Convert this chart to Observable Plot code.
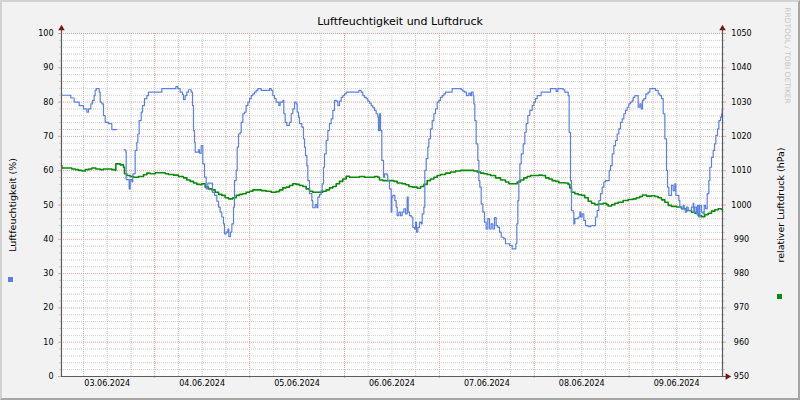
<!DOCTYPE html>
<html>
<head>
<meta charset="utf-8">
<script src="https://cdn.jsdelivr.net/npm/d3@7"></script>
<script src="https://cdn.jsdelivr.net/npm/@observablehq/plot@0.6"></script>
<style>
html, body { margin: 0; padding: 0; background: #f2f2f2; }
#wrap { position: relative; width: 800px; height: 400px; overflow: hidden; font-family: "DejaVu Sans", sans-serif; }
#border { position: absolute; left: 0; top: 0; width: 800px; height: 400px; box-sizing: border-box;
  border-top: 2px solid #d2d2d2; border-left: 2px solid #d2d2d2; border-right: 2px solid #a6a6a6; border-bottom: 2px solid #a6a6a6; pointer-events: none; }
.leg { position: absolute; width: 5px; height: 5px; }
svg { display: block; }
</style>
</head>
<body>
<div id="wrap">
  <div id="chart"></div>
  <div class="leg" style="left:8px;top:277px;background:#5a80e6"></div>
  <div class="leg" style="left:777px;top:294px;background:#0b8a0b"></div>
  <div id="border"></div>
</div>
<script>
// ---- data (hours since 03.06.2024 00:00) ----
const dayLabels = ["03.06.2024","04.06.2024","05.06.2024","06.06.2024","07.06.2024","08.06.2024","09.06.2024"];

const humHours = [0.43,2.79,3.63,4.90,5.99,6.84,7.26,7.85,8.27,8.69,8.94,9.20,9.96,10.21,10.63,11.05,11.47,12.32,13.16,14.42,14.50,
16.28,16.70,16.79,17.54,17.80,18.22,18.47,19.06,19.48,19.74,20.07,20.58,20.92,21.42,22.01,22.43,25.80,29.35,29.85,30.44,31.03,31.28,31.71,32.13,32.55,33.22,33.56,33.81,34.07,34.24,35.08,35.33,35.75,36.17,36.60,37.02,37.44,38.62,39.12,39.71,40.14,40.56,40.98,41.40,41.65,42.08,42.50,42.75,43.17,43.51,43.93,
44.18,44.61,44.86,45.20,45.62,45.87,46.29,46.71,47.13,47.56,47.98,48.40,48.82,49.24,49.66,50.08,50.93,53.04,53.46,53.88,54.30,54.72,55.39,55.73,56.41,56.66,57.00,57.42,58.09,58.52,58.94,59.36,59.78,60.03,60.37,60.62,61.21,61.63,61.89,62.14,62.48,62.73,63.15,63.74,63.99,64.59,65.01,65.26,65.68,66.10,66.36,66.69,66.94,67.37,67.79,68.21,68.63,69.05,69.47,69.90,70.32,70.74,71.16,71.58,72.00,72.43,75.63,76.22,76.64,77.06,77.48,77.90,78.33,78.75,79.17,79.59,80.01,80.43,80.60,80.86,81.11,81.44,81.87,82.12,82.80,82.96,83.38,83.81,83.97,
84.23,84.73,85.07,85.32,85.74,86.17,86.59,87.01,87.43,87.85,88.11,88.44,88.86,89.28,89.71,89.96,90.21,90.55,90.97,91.39,91.65,92.07,92.32,92.66,93.08,93.33,93.75,94.18,94.60,95.02,95.44,95.86,96.28,96.71,97.13,97.55,99.23,101.51,101.93,102.35,102.86,103.45,103.87,104.12,104.54,104.71,104.96,105.30,105.72,105.98,106.23,106.57,106.99,107.41,107.83,108.25,108.68,109.10,109.52,109.94,110.36,110.78,111.20,111.63,112.30,112.72,113.73,114.41,115.33,115.59,115.84,116.09,116.35,116.69,117.19,117.61,117.95,118.37,118.87,119.47,119.89,120.31,120.73,121.74,124.10,125.54,125.96,
127.31,127.73,128.57,128.82,129.16,129.41,129.84,130.00,130.26,131.10,131.52,131.77,132.11,132.53,132.95,133.63,134.30,135.48,135.90,136.33,136.75,137.17,137.59,138.01,138.94,139.28,139.70,140.12,140.54,140.96,141.38,141.81,142.23,142.65,143.07,143.49,143.91,144.34,144.76,145.01,145.43,146.27,146.69,147.03,147.37,147.71,148.21,148.80,149.22,150.66,151.33,151.75,152.18,152.60,153.02,153.44,153.69,154.03,154.70,155.13,155.55,155.80,156.56,156.81,157.23,157.65,157.91,158.16,158.50,158.92,159.76,160.18,160.35,160.60,161.03,161.28,161.62,161.87,162.29,162.71,162.97,163.31,163.73,164.15,164.40,164.82,165.24,165.58,165.92,166.34,166.68,167.10,167.35,167.55,167.60];

const humValues = [82.0,81.2,80.0,79.0,78.0,77.1,78.0,79.5,80.5,81.9,83.4,83.9,82.9,80.0,79.5,76.1,74.1,73.7,72.0,72.0,NaN,
66.1,65.4,57.4,54.7,57.4,56.7,59.1,65.9,68.3,70.7,74.6,77.1,79.0,81.0,81.9,82.9,83.9,84.5,83.9,82.9,82.2,80.7,81.9,82.9,83.6,82.9,79.0,71.7,68.3,65.4,66.1,65.1,67.3,62.0,58.1,54.7,56.4,53.7,52.8,51.1,49.4,47.9,46.5,44.5,41.6,42.1,43.0,40.8,42.1,44.5,49.4,
57.1,60.1,66.9,70.7,71.2,74.1,76.6,77.1,79.0,80.0,81.0,81.9,82.4,82.9,83.4,83.9,83.4,83.9,83.4,81.9,81.0,80.0,79.0,80.0,80.5,76.6,74.1,73.2,74.1,76.6,78.0,80.0,79.5,77.1,75.6,73.7,72.7,69.3,66.9,64.4,61.5,57.1,53.3,51.3,49.2,50.1,49.2,52.3,53.1,54.2,56.2,61.0,64.9,68.8,71.7,73.7,75.1,77.6,80.5,80.3,79.0,80.3,81.4,81.9,82.4,82.9,83.4,82.9,81.9,81.4,81.0,80.3,79.7,79.0,78.4,77.6,76.6,75.6,71.7,76.6,71.7,63.0,58.1,59.1,58.6,57.1,54.7,47.9,52.3,
52.8,51.3,49.4,46.9,47.9,46.9,47.9,48.9,47.4,52.3,47.9,46.9,46.5,43.5,43.0,45.0,42.1,43.5,45.0,44.5,47.4,49.4,60.1,63.5,66.9,69.3,72.2,74.6,76.6,78.0,80.0,80.5,81.4,81.9,82.4,82.9,83.9,83.6,83.2,82.9,81.9,82.6,81.9,82.9,81.9,79.5,74.6,67.8,63.0,57.1,55.2,50.3,47.9,45.0,43.0,46.0,43.0,44.5,43.0,46.3,44.0,43.5,42.1,40.6,40.1,38.7,38.2,37.2,38.7,44.5,51.3,57.1,62.0,64.9,67.8,71.2,73.7,76.1,77.6,79.0,80.0,81.0,81.9,82.9,83.9,83.1,83.9,
83.6,82.9,81.9,71.2,57.1,48.4,47.9,44.5,46.0,46.5,47.9,46.5,47.4,45.5,44.0,43.7,44.0,46.5,48.4,51.3,53.3,55.2,56.7,57.1,60.1,61.5,64.9,67.3,68.8,70.7,72.2,74.1,75.1,76.6,77.6,78.5,79.5,80.0,80.5,81.4,81.9,78.5,79.5,78.0,80.5,81.0,82.4,82.9,83.9,83.4,82.4,81.9,81.0,76.6,69.3,60.1,55.2,52.8,55.7,54.2,56.2,52.8,51.3,49.4,48.9,49.9,48.9,47.9,49.4,48.4,49.4,50.5,47.9,49.4,47.4,49.9,46.5,49.9,47.9,47.4,49.9,48.9,53.3,57.1,61.0,63.9,65.9,67.8,70.3,72.2,74.6,75.6,76.6,78.0,78.0];

const pressHours = [0.43,0.51,3.04,3.89,4.73,5.57,6.42,7.26,8.10,9.11,10.21,11.05,12.32,13.16,14.00,14.17,15.27,16.11,16.36,16.95,17.80,18.64,19.90,21.17,22.01,22.86,24.12,25.80,26.65,27.49,28.76,30.02,31.28,32.13,32.97,33.81,34.66,35.50,35.92,36.76,37.61,38.45,39.29,40.14,40.98,41.82,42.67,
43.76,44.61,45.45,46.29,47.13,47.98,48.82,49.66,50.93,52.19,53.46,54.72,55.56,56.41,57.25,58.09,58.94,59.78,60.62,61.47,62.31,63.15,63.99,65.26,66.52,67.37,68.21,69.05,69.90,70.74,71.58,72.43,73.27,74.53,75.80,77.06,78.33,79.59,80.43,80.86,81.70,82.96,
84.48,85.32,86.59,87.43,88.27,89.12,90.38,91.23,92.07,92.91,93.75,94.60,95.44,96.28,97.55,98.81,100.08,101.34,103.87,104.71,105.56,106.40,107.24,108.09,108.93,110.19,111.46,112.72,113.56,114.83,115.67,116.51,117.36,118.20,119.04,121.15,122.00,122.84,123.68,124.52,125.37,126.21,
127.73,128.57,128.99,129.41,130.26,131.10,131.94,132.78,133.63,134.47,135.31,136.16,137.42,138.26,138.69,139.53,140.37,141.22,142.48,143.75,145.01,145.85,146.69,147.37,148.38,149.65,150.49,151.33,152.18,153.02,153.86,154.70,155.97,157.23,158.50,159.76,160.60,161.45,162.29,163.13,163.98,164.82,165.66,166.51,167.35,167.60];

const pressValues = [1011.5,1010.8,1010.5,1010.3,1010.1,1009.9,1010.3,1010.5,1010.8,1010.5,1010.3,1010.5,1010.5,1010.3,1010.1,1012.0,1011.7,1011.0,1009.1,1008.6,1008.3,1008.1,1008.3,1008.8,1009.3,1009.1,1009.4,1009.4,1009.1,1008.9,1008.7,1008.3,1007.9,1007.3,1006.9,1006.4,1006.0,1005.9,1006.2,1005.2,1004.7,1004.4,1003.7,1003.1,1002.8,1002.1,1001.8,
1002.1,1002.8,1003.1,1003.3,1003.7,1004.0,1004.4,1004.4,1004.2,1004.0,1003.7,1003.9,1004.4,1005.0,1005.2,1005.7,1006.2,1006.0,1005.7,1005.4,1004.7,1004.0,1003.7,1003.7,1004.0,1004.4,1005.0,1005.4,1006.2,1006.9,1007.6,1008.4,1008.1,1008.1,1008.3,1008.1,1008.1,1008.3,1008.1,1007.3,1007.1,1007.1,
1006.9,1006.4,1006.2,1005.9,1005.4,1005.2,1004.9,1005.4,1006.0,1007.1,1007.6,1008.1,1008.6,1008.9,1009.3,1009.6,1009.9,1010.1,1010.1,1009.9,1009.6,1009.3,1009.1,1008.9,1008.6,1007.9,1007.3,1006.7,1006.2,1006.2,1006.7,1007.3,1007.9,1008.3,1008.6,1008.7,1008.6,1007.9,1007.6,1007.1,1006.9,1006.5,
1006.4,1006.0,1005.0,1003.7,1003.3,1003.0,1002.8,1002.1,1001.1,1000.5,1000.1,1000.3,1000.5,1000.1,999.7,1000.1,1000.5,1000.8,1001.3,1001.6,1001.8,1002.1,1002.5,1002.9,1002.6,1002.7,1002.5,1002.1,1001.5,1000.8,999.9,999.6,999.4,998.9,998.4,997.9,997.6,996.9,996.6,997.2,997.6,998.2,998.6,998.9,998.7,998.6];

const humTicks = [0,10,20,30,40,50,60,70,80,90,100];
const pressOffset = 950; // right axis 950..1050 shares the 0..100 scale

// ---- build ----
const base = Date.UTC(2024, 5, 3);
const HOUR = 3600e3;
const toDate = h => new Date(base + h * HOUR);
const hum = humHours.map((h, i) => ({t: toDate(h), v: humValues[i]}));
const press = pressHours.map((h, i) => ({t: toDate(h), p: pressValues[i]}));
const x0 = toDate(0.43), x1 = toDate(167.6);
const minorX = d3.utcHour.every(6).range(x0, x1).filter(d => d.getUTCHours() !== 0);
const majorX = d3.utcDay.range(x0, x1);
const noonX = dayLabels.map((_, i) => toDate(12 + 24 * i));
const minorY = d3.range(2, 100, 2).filter(v => v % 10 !== 0);
const majorY = humTicks.filter(v => v > 0);

const minorCol = "#cdcdcd", majorCol = "#e8a4a4", axisCol = "#5c5c5c", arrowCol = "#7d1515";

const chart = Plot.plot({
  width: 800, height: 400,
  marginLeft: 61, marginRight: 78, marginTop: 33, marginBottom: 24,
  style: {background: "transparent", fontFamily: "'DejaVu Sans', sans-serif", fontSize: "8px", color: "#000", overflow: "visible"},
  x: {type: "utc", domain: [x0, x1], label: null},
  y: {domain: [0, 100], label: null},
  marks: [
    Plot.frame({fill: "white", stroke: null}),
    Plot.ruleY(minorY, {stroke: minorCol, strokeDasharray: "1,1"}),
    Plot.ruleX(minorX, {stroke: minorCol, strokeDasharray: "1,1"}),
    Plot.ruleY(majorY, {stroke: majorCol, strokeDasharray: "1,1"}),
    Plot.ruleX(majorX, {stroke: majorCol, strokeDasharray: "1,1", insetBottom: -3}),
    Plot.axisY({ticks: minorY, tickSize: 2, tickFormat: () => "", stroke: minorCol, label: null}),
    Plot.axisY({ticks: humTicks, tickSize: 3, tickPadding: 5, stroke: majorCol, label: null}),
    Plot.axisY({anchor: "right", ticks: minorY, tickSize: 2, tickFormat: () => "", stroke: minorCol, label: null}),
    Plot.axisY({anchor: "right", ticks: humTicks, tickSize: 3, tickPadding: 16, textAnchor: "middle",
      tickFormat: d => String(d + pressOffset), stroke: majorCol, label: null}),
    Plot.axisX(noonX, {tickSize: 0, tickPadding: 4, label: null,
      tickFormat: d => dayLabels[Math.floor((d - base) / (24 * HOUR))]}),
    Plot.line(press, {x: "t", y: d => d.p - pressOffset, stroke: "#0b8a0b", strokeWidth: 1.6, curve: "step-after"}),
    Plot.line(hum, {x: "t", y: "v", stroke: "#5a80e6", strokeWidth: 1.2, curve: "step-after"}),
    Plot.ruleX([x0, x1], {stroke: axisCol, strokeWidth: 1.2, insetTop: -4}),
    Plot.ruleY([0], {stroke: axisCol, strokeWidth: 1.2, insetRight: -4}),
    Plot.dot([x0, x1], {x: d => d, y: () => 100, symbol: "triangle", r: 2.4, fill: arrowCol, stroke: null, dy: -5}),
    Plot.dot([x1], {x: d => d, y: () => 0, symbol: "triangle", r: 2.4, fill: arrowCol, stroke: null, rotate: 90, dx: 5}),
    Plot.text(["Luftfeuchtigkeit und Luftdruck"], {frameAnchor: "top", dx: 8, dy: -16, fontSize: 11, fill: "#000"}),
    Plot.text(["Luftfeuchtigkeit (%)"], {frameAnchor: "left", textAnchor: "middle", rotate: -90, dx: -49, fontSize: 9.5, fill: "#000"}),
    Plot.text(["relativer Luftdruck (hPa)"], {frameAnchor: "right", textAnchor: "middle", rotate: -90, dx: 58, fontSize: 9.5, fill: "#000"}),
    Plot.text(["RRDTOOL / TOBI OETIKER"], {frameAnchor: "top-right", textAnchor: "middle", rotate: 90, dx: 68, dy: 22, fontSize: 7.5, fill: "#c6c6c6"})
  ]
});
document.getElementById("chart").appendChild(chart);
</script>
</body>
</html>
